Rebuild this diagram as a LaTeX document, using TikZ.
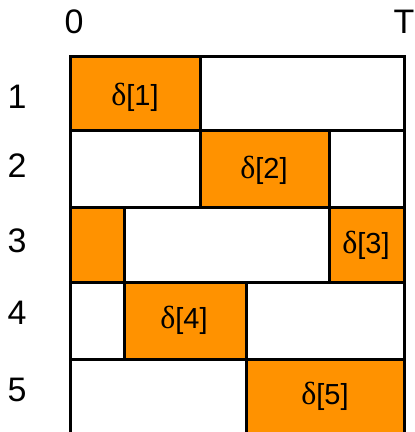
\documentclass[tikz,border=0pt]{standalone}
\usepackage{fontspec}
\setmainfont{Liberation Sans}
\newfontfamily\greekfont{Liberation Serif}
\definecolor{slotorange}{RGB}{255,146,0}

\begin{document}
\begin{tikzpicture}[
  x=1pt, y=-1pt,
  font=\fontsize{34}{40}\selectfont,
  cell/.style={draw=black, line width=3pt},
  busy/.style={cell, fill=slotorange},
  lab/.style={inner sep=0pt, anchor=center},
  slot/.style={lab, font=\fontsize{29}{34}\selectfont}
]
\path[use as bounding box] (0,0) rectangle (415,432);
\clip (0,0) rectangle (415,432);

% time axis ends
\node[lab] (zero) at (74,22) {0};
\node[lab] (tend) at (404,22) {T};

% task numbers
\node[lab] (n1) at (17,97) {1};
\node[lab] (n2) at (17,166) {2};
\node[lab] (n3) at (17,241) {3};
\node[lab] (n4) at (17,313) {4};
\node[lab] (n5) at (17,390) {5};

% row 1
\draw[busy] (70,56) rectangle (200,130);
\draw[cell] (200,56) rectangle (404,130);
% row 2
\draw[cell] (70,130) rectangle (200,207);
\draw[busy] (200,130) rectangle (329,207);
\draw[cell] (329,130) rectangle (404,207);
% row 3
\draw[busy] (70,207) rectangle (124,282);
\draw[cell] (124,207) rectangle (329,282);
\draw[busy] (329,207) rectangle (404,282);
% row 4
\draw[cell] (70,282) rectangle (124,359);
\draw[busy] (124,282) rectangle (246,359);
\draw[cell] (246,282) rectangle (404,359);
% row 5
\draw[cell] (70,359) rectangle (246,436);
\draw[busy] (246,359) rectangle (404,436);

\node[slot] (d1) at (135,97) {{\greekfont\fontsize{32}{34}\selectfont δ}[1]};
\node[slot] (d2) at (264,170) {{\greekfont\fontsize{32}{34}\selectfont δ}[2]};
\node[slot] (d3) at (366,245) {{\greekfont\fontsize{32}{34}\selectfont δ}[3]};
\node[slot] (d4) at (184,320) {{\greekfont\fontsize{32}{34}\selectfont δ}[4]};
\node[slot] (d5) at (325,396) {{\greekfont\fontsize{32}{34}\selectfont δ}[5]};
\end{tikzpicture}
\end{document}
